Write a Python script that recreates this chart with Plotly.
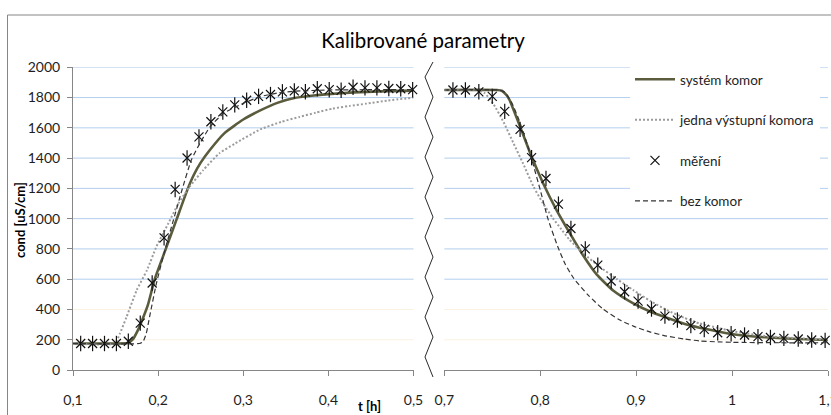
import plotly.graph_objects as go

W, H = 831, 415

# ---- data -------------------------------------------------------------
# rising part (0.1 - 0.5 h)
t_sys_a = [0.100, 0.150, 0.164, 0.170, 0.176, 0.182, 0.188, 0.196, 0.209, 0.222,
           0.235, 0.242, 0.250, 0.261, 0.278, 0.300, 0.320, 0.340, 0.360, 0.380,
           0.400, 0.430, 0.460, 0.500]
v_sys_a = [175, 175, 178, 200, 260, 340, 430, 600, 800, 1000,
           1200, 1290, 1370, 1455, 1565, 1655, 1715, 1765, 1797, 1812,
           1823, 1834, 1841, 1846]

t_one_a = [0.100, 0.149, 0.155, 0.163, 0.175, 0.187, 0.198, 0.212, 0.224, 0.237,
           0.253, 0.272, 0.290, 0.320, 0.345, 0.366, 0.385, 0.405, 0.425, 0.445,
           0.470, 0.500]
v_one_a = [175, 176, 240, 352, 529, 661, 815, 969, 1101, 1211,
           1321, 1432, 1495, 1590, 1640, 1672, 1700, 1727, 1745, 1760,
           1780, 1800]

t_bez_a = [0.100, 0.178, 0.182, 0.186, 0.190, 0.198, 0.208, 0.218, 0.228, 0.239,
           0.249, 0.261, 0.277, 0.300, 0.320, 0.340, 0.360, 0.400, 0.450, 0.500]
v_bez_a = [175, 175, 185, 240, 352, 573, 793, 991, 1189, 1387,
           1497, 1607, 1696, 1762, 1806, 1830, 1842, 1850, 1852, 1852]

t_mer_a = [0.109, 0.123, 0.137, 0.151, 0.165, 0.179, 0.193, 0.207, 0.220, 0.234,
           0.248, 0.262, 0.276, 0.290, 0.304, 0.318, 0.332, 0.346, 0.360, 0.373,
           0.387, 0.401, 0.415, 0.429, 0.443, 0.457, 0.471, 0.485, 0.499]
v_mer_a = [175, 175, 175, 175, 190, 310, 575, 873, 1193, 1401,
           1540, 1640, 1705, 1752, 1782, 1808, 1820, 1838, 1844, 1838,
           1858, 1852, 1848, 1868, 1864, 1864, 1860, 1858, 1852]

# falling part (0.7 - 1.1 h)
t_sys_b = [0.700, 0.755, 0.760, 0.765, 0.768, 0.779, 0.791, 0.803, 0.817, 0.831,
           0.845, 0.859, 0.876, 0.897, 0.915, 0.932, 0.950, 0.966, 0.985, 1.001,
           1.035, 1.070, 1.100]
v_sys_b = [1850, 1850, 1845, 1815, 1784, 1608, 1410, 1234, 1057, 903,
           755, 630, 525, 440, 385, 345, 305, 279, 255, 236,
           216, 205, 198]

t_one_b = [0.700, 0.735, 0.742, 0.751, 0.762, 0.772, 0.782, 0.793, 0.803, 0.813,
           0.822, 0.830, 0.845, 0.862, 0.880, 0.897, 0.915, 0.932, 0.950, 0.966,
           0.985, 1.000, 1.035, 1.070, 1.100]
v_one_b = [1850, 1850, 1830, 1760, 1635, 1500, 1366, 1211, 1100, 1005,
           930, 865, 770, 682, 600, 528, 455, 396, 345, 308,
           278, 257, 224, 210, 202]

t_bez_b = [0.700, 0.757, 0.763, 0.770, 0.778, 0.786, 0.793, 0.800, 0.808, 0.818,
           0.826, 0.835, 0.850, 0.865, 0.883, 0.897, 0.915, 0.932, 0.950, 0.966,
           0.985, 1.000, 1.050, 1.100]
v_bez_b = [1850, 1850, 1835, 1770, 1650, 1500, 1350, 1190, 1000, 820,
           700, 605, 495, 405, 330, 290, 250, 224, 205, 192,
           186, 183, 180, 180]

t_mer_b = [0.709, 0.722, 0.736, 0.750, 0.763, 0.779, 0.791, 0.806, 0.819, 0.832,
           0.847, 0.860, 0.874, 0.888, 0.902, 0.916, 0.930, 0.943, 0.957, 0.971,
           0.985, 0.999, 1.013, 1.027, 1.040, 1.054, 1.069, 1.083, 1.097]
v_mer_b = [1850, 1850, 1838, 1808, 1709, 1590, 1403, 1265, 1096, 935,
           800, 693, 588, 517, 455, 403, 356, 330, 293, 268,
           246, 240, 231, 220, 215, 209, 205, 198, 196]

x_ticks_a = [0.1, 0.2, 0.3, 0.4, 0.5]
x_text_a = ["0,1", "0,2", "0,3", "0,4", "0,5"]
x_ticks_b = [0.7, 0.8, 0.9, 1.0, 1.1]
x_text_b = ["0,7", "0,8", "0,9", "1", "1,1"]
y_ticks = [0, 200, 400, 600, 800, 1000, 1200, 1400, 1600, 1800, 2000]
grid_blue = [600, 800, 1000, 1200, 1400, 1600, 1800, 2000]
grid_faint = [200, 400]

names = ["systém komor", "jedna výstupní komora", "měření", "bez komor"]

# ---- styles -----------------------------------------------------------
FONT = "Lato"
TXT = "#1e1e1e"
AX = "#868686"
SYS = dict(color="#5b5b3e", width=2.6)
ONE = dict(color="#9c9c9c", width=2, dash="2px,2px")
BEZ = dict(color="#353535", width=1.2, dash="5px,3px")
MK = "#111111"


def px(x):
    return x / W


def py(y):
    return 1 - y / H


fig = go.Figure()

for xa, (ts, vs, to, vo, tm, vm, tb, vb) in {
    "x": (t_sys_a, v_sys_a, t_one_a, v_one_a, t_mer_a, v_mer_a, t_bez_a, v_bez_a),
    "x2": (t_sys_b, v_sys_b, t_one_b, v_one_b, t_mer_b, v_mer_b, t_bez_b, v_bez_b),
}.items():
    first = xa == "x"
    fig.add_trace(go.Scatter(x=ts, y=vs, xaxis=xa, yaxis="y", mode="lines",
                             line=dict(shape="spline", smoothing=0.5, **SYS),
                             name=names[0], legendgroup="g0", showlegend=first))
    fig.add_trace(go.Scatter(x=to, y=vo, xaxis=xa, yaxis="y", mode="lines",
                             line=dict(shape="spline", smoothing=0.5, **ONE),
                             name=names[1], legendgroup="g1", showlegend=first))
    fig.add_trace(go.Scatter(x=tm, y=vm, xaxis=xa, yaxis="y", mode="markers",
                             marker=dict(symbol="line-ns-open", size=11, color=MK,
                                         line=dict(color=MK, width=1.2)),
                             name=names[2], legendgroup="g2", showlegend=False,
                             cliponaxis=False))
    fig.add_trace(go.Scatter(x=tm, y=vm, xaxis=xa, yaxis="y", mode="markers",
                             marker=dict(symbol="x-thin-open", size=9, color=MK,
                                         line=dict(color=MK, width=1.2)),
                             name=names[2], legendgroup="g2", showlegend=first,
                             cliponaxis=False))
    fig.add_trace(go.Scatter(x=tb, y=vb, xaxis=xa, yaxis="y", mode="lines",
                             line=dict(shape="spline", smoothing=0.5, **BEZ),
                             name=names[3], legendgroup="g3", showlegend=first))

shapes = []
# horizontal gridlines in both panels
for ref in ("x domain", "x2 domain"):
    for g in grid_blue:
        shapes.append(dict(type="line", xref=ref, yref="y", x0=0, x1=1, y0=g, y1=g,
                           line=dict(color="#b3cfee", width=1), layer="below"))
    for g in grid_faint:
        shapes.append(dict(type="line", xref=ref, yref="y", x0=0, x1=1, y0=g, y1=g,
                           line=dict(color="#fbf1e2", width=1), layer="below"))

# zigzag axis-break marker between the panels
zz = [(433, 62)]
yy = 77
while yy <= 360:
    zz.append((425, yy))
    zz.append((433, yy + 20))
    yy += 40
path = "M " + " L ".join(f"{px(a):.5f},{py(b):.5f}" for a, b in zz)
shapes.append(dict(type="path", xref="paper", yref="paper", path=path,
                   line=dict(color="#2a2a2a", width=1)))

# outer chart frame
shapes.append(dict(type="line", xref="paper", yref="paper", x0=px(7.5), x1=px(7.5),
                   y0=py(15), y1=0, line=dict(color=AX, width=1)))
shapes.append(dict(type="line", xref="paper", yref="paper", x0=px(7.5), x1=1,
                   y0=py(15), y1=py(15), line=dict(color=AX, width=1)))

axis_common = dict(showgrid=False, zeroline=False, showline=True, linecolor=AX,
                   linewidth=1, ticks="outside", ticklen=5, tickcolor=AX,
                   automargin=False, ticklabeloverflow="allow",
                   tickfont=dict(family=FONT, size=14, color=TXT))

fig.update_layout(
    width=W, height=H, margin=dict(l=0, r=0, t=0, b=0, autoexpand=False),
    autosize=False,
    paper_bgcolor="white", plot_bgcolor="white",
    font=dict(family=FONT, color=TXT),
    title=dict(text="Kalibrované parametry", x=px(423), y=py(41), xref="paper",
               yref="paper", xanchor="center", yanchor="middle", automargin=False,
               font=dict(family=FONT, size=20.5, color="#000000")),
    xaxis=dict(domain=[px(73), px(413.5)], range=[0.1, 0.5], anchor="y",
               tickvals=x_ticks_a, ticktext=x_text_a, ticklabelstandoff=12,
               **axis_common),
    xaxis2=dict(domain=[px(444.3), px(828)], range=[0.7, 1.1], anchor="y",
                tickvals=x_ticks_b, ticktext=x_text_b, ticklabelstandoff=12,
                **axis_common),
    yaxis=dict(domain=[py(370), py(67.3)], range=[0, 2000], anchor="x",
               tickvals=y_ticks, ticktext=[str(v) for v in y_ticks],
               ticklabelstandoff=4, **axis_common),
    legend=dict(x=px(630), y=py(64), xanchor="left", yanchor="top",
                bgcolor="white", borderwidth=0, traceorder="grouped",
                tracegroupgap=20, itemwidth=40,
                font=dict(family=FONT, size=13.5, color=TXT)),
    shapes=shapes,
    annotations=[
        dict(text="<b>cond [uS/cm]</b>", x=px(20), y=py(220), xref="paper",
             yref="paper", xanchor="center", yanchor="middle", textangle=-90,
             showarrow=False, font=dict(family=FONT, size=13, color="#000000")),
        dict(text="<b>t [h]</b>", x=px(369), y=py(406), xref="paper", yref="paper",
             xanchor="center", yanchor="middle", showarrow=False,
             font=dict(family=FONT, size=13, color="#000000")),
    ],
)

fig.write_html("out.html")
